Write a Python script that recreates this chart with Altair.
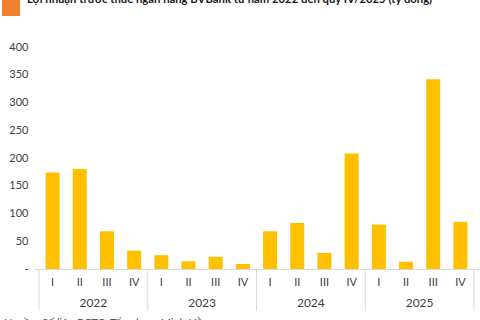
import altair as alt
import pandas as pd

years = ["2022", "2023", "2024", "2025"]
quarters = ["I", "II", "III", "IV"]
v2022 = [174, 180, 68, 33]
v2023 = [25, 14, 22, 9]
v2024 = [68, 83, 29, 208]
v2025 = [80, 13, 342, 85]
y_ticks = [0, 50, 100, 150, 200, 250, 300, 350, 400]
title_text = "Lợi nhuận trước thuế ngân hàng  BVBank từ năm 2022 đến quý IV/2025 (tỷ đồng)"
source_text = "Nguồn: Số liệu BCTC, Tổng hợp: Minh Hằng"

series = [v2022, v2023, v2024, v2025]
rows = []
for yi, (yr, vals) in enumerate(zip(years, series)):
    for qi, (q, v) in enumerate(zip(quarters, vals)):
        rows.append({"idx": yi * 4 + qi, "year": yr, "quarter": q, "value": v})
df = pd.DataFrame(rows)

yr_df = pd.DataFrame({
    "year": years,
    "mid": [i * 4 + 1.5 for i in range(len(years))],
})
sep_df = pd.DataFrame({"pos": [i * 4 - 0.5 for i in range(len(years) + 1)]})

W, H = 445, 222
xscale = alt.Scale(domain=[-0.5, 15.5], nice=False, zero=False)
yscale = alt.Scale(domain=[0, 400], nice=False)

bars = alt.Chart(df).mark_bar(color="#FFC000", size=14).encode(
    x=alt.X("idx:Q", scale=xscale,
            axis=alt.Axis(labels=False, ticks=False, grid=False, title=None,
                          domainColor="#d9d9d9", domainWidth=1)),
    y=alt.Y("value:Q", scale=yscale,
            axis=alt.Axis(values=y_ticks, grid=False, ticks=False, domain=False, title=None,
                          labelExpr="datum.value == 0 ? '-' : datum.label",
                          labelFont="Lato", labelFontSize=11, labelColor="#404040",
                          labelPadding=6)),
)

qlabels = alt.Chart(df).mark_text(font="Lato", fontSize=11, color="#404040", baseline="middle").encode(
    x=alt.X("idx:Q", scale=xscale),
    y=alt.value(H + 14),
    text="quarter:N",
)

ylabels = alt.Chart(yr_df).mark_text(font="Lato", fontSize=12, color="#404040", baseline="middle").encode(
    x=alt.X("mid:Q", scale=xscale),
    y=alt.value(H + 34),
    text="year:N",
)

seps = alt.Chart(sep_df).mark_rule(color="#d9d9d9", strokeWidth=1).encode(
    x=alt.X("pos:Q", scale=xscale),
    y=alt.value(H),
    y2=alt.value(H + 42),
)

title = alt.Chart(pd.DataFrame({"t": [title_text]})).mark_text(
    font="Lato", fontSize=11.3, fontWeight="bold", color="#1a1a1a", align="left", baseline="alphabetic"
).encode(x=alt.value(-7), y=alt.value(-44), text="t:N")

square = alt.Chart(pd.DataFrame({"a": [0]})).mark_rect(color="#F07F2E").encode(
    x=alt.value(-32), x2=alt.value(-14), y=alt.value(-47), y2=alt.value(-31)
)

source = alt.Chart(pd.DataFrame({"t": [source_text]})).mark_text(
    font="Lato", fontSize=11, color="#595959", align="left", baseline="top"
).encode(x=alt.value(-30), y=alt.value(H + 49), text="t:N")

chart = alt.layer(seps, bars, qlabels, ylabels, title, square, source).properties(
    width=W, height=H,
    autosize=alt.AutoSizeParams(type="none"),
    padding={"left": 34, "top": 47, "right": 1, "bottom": 51},
).configure_view(stroke=None)

chart.save("out.html", embed_options={"renderer": "svg", "actions": False})
